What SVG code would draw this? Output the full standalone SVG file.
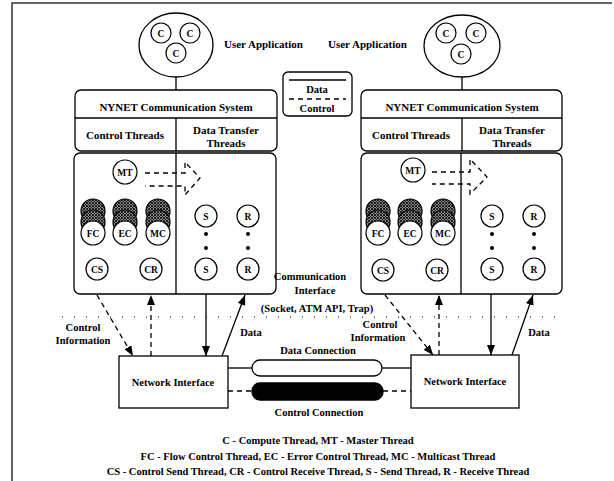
<svg xmlns="http://www.w3.org/2000/svg" width="614" height="481" viewBox="0 0 614 481">
<defs>
<style>
text{font-family:"Liberation Serif","Times New Roman",serif;font-weight:bold;fill:#000}
.t11{font-size:11px}
.t10{font-size:10.5px}
.lbl{font-size:9.5px;text-anchor:middle}
.mid{text-anchor:middle}
.box{fill:#fff;stroke:#000;stroke-width:1.3}
.ln{fill:none;stroke:#000;stroke-width:1.3}
.dash{fill:none;stroke:#000;stroke-width:1.3;stroke-dasharray:5 4}
.circ{fill:#fff;stroke:#000;stroke-width:1.2}
.hat{fill:url(#hatch);stroke:#000;stroke-width:1.2}
</style>
<pattern id="hatch" width="3" height="3" patternUnits="userSpaceOnUse">
<rect width="3" height="3" fill="#888"/>
<path d="M0,3 L3,0 M0,0 L3,3" stroke="#111" stroke-width="0.9"/>
</pattern>
<marker id="arr" markerUnits="userSpaceOnUse" markerWidth="10" markerHeight="8" refX="10" refY="4" orient="auto">
<path d="M0,0 L10,4 L0,8 z" fill="#000"/>
</marker>
<g id="stack">
<circle class="hat" cx="0" cy="-22" r="12"/>
<circle class="hat" cx="0" cy="-11" r="12"/>
<circle class="circ" cx="0" cy="0" r="12"/>
</g>
</defs>
<rect width="614" height="481" fill="#fff"/>
<g id="frame">
<path d="M12,481 V3 H612" fill="none" stroke="#333" stroke-width="1.5"/>
</g>

<!-- Left side -->
<g id="userAppL">
<ellipse class="box" cx="176" cy="45" rx="37" ry="32"/>
<circle class="circ" cx="161" cy="33" r="10"/><text class="lbl" x="161" y="36.5">C</text>
<circle class="circ" cx="190" cy="33" r="10"/><text class="lbl" x="190" y="36.5">C</text>
<circle class="circ" cx="176" cy="53" r="10"/><text class="lbl" x="176" y="56.5">C</text>
</g>
<text class="t11" x="224" y="48">User Application</text>
<g id="nynetL">
<rect class="box" x="75" y="90" width="202" height="61" rx="6"/>
<line class="ln" x1="75" y1="118" x2="277" y2="118"/>
<line class="ln" x1="176" y1="118" x2="176" y2="151"/>
<text class="t11 mid" x="176" y="111">NYNET Communication System</text>
<text class="t11 mid" x="125" y="139">Control Threads</text>
<text class="t11 mid" x="226" y="134">Data Transfer</text>
<text class="t11 mid" x="226" y="147">Threads</text>
</g>
<g id="bodyL">
<rect class="box" x="74" y="153" width="202" height="141" rx="6"/>
<line class="ln" x1="176" y1="153" x2="176" y2="294"/>
</g>
<g id="MTL"><circle class="circ" cx="125" cy="172" r="12"/><text class="lbl" x="125" y="175.5">MT</text></g>
<g id="mtArrowL"><path class="dash" d="M145,173 H185 V162 L200,178 L185,195 V186 H145"/></g>
<g id="FCL"><use href="#stack" x="93" y="233"/><text class="lbl" x="93" y="236.5">FC</text></g>
<g id="ECL"><use href="#stack" x="125" y="233"/><text class="lbl" x="125" y="236.5">EC</text></g>
<g id="MCL"><use href="#stack" x="158" y="233"/><text class="lbl" x="158" y="236.5">MC</text></g>
<g id="CSL"><circle class="circ" cx="97" cy="269" r="11"/><text class="lbl" x="97" y="272.5">CS</text></g>
<g id="CRL"><circle class="circ" cx="151" cy="269" r="11"/><text class="lbl" x="151" y="272.5">CR</text></g>
<g id="S1L"><circle class="circ" cx="206" cy="216" r="11"/><text class="lbl" x="206" y="219.5">S</text></g>
<g id="S2L"><circle class="circ" cx="206" cy="269" r="11"/><text class="lbl" x="206" y="272.5">S</text></g>
<g id="R1L"><circle class="circ" cx="248" cy="216" r="11"/><text class="lbl" x="248" y="219.5">R</text></g>
<g id="R2L"><circle class="circ" cx="248" cy="269" r="11"/><text class="lbl" x="248" y="272.5">R</text></g>
<g id="dotsL" fill="#000"><circle cx="206" cy="234" r="2"/><circle cx="206" cy="248" r="2"/><circle cx="248" cy="234" r="2"/><circle cx="248" cy="248" r="2"/></g>
<g id="niL">
<rect class="box" x="119" y="356" width="109" height="52"/>
<text class="t10 mid" x="173" y="386">Network Interface</text>
</g>

<!-- Right side -->
<g id="userAppR">
<ellipse class="box" cx="462" cy="46" rx="38" ry="31"/>
<circle class="circ" cx="446" cy="33" r="10"/><text class="lbl" x="446" y="36.5">C</text>
<circle class="circ" cx="476" cy="33" r="10"/><text class="lbl" x="476" y="36.5">C</text>
<circle class="circ" cx="461" cy="54" r="10"/><text class="lbl" x="461" y="57.5">C</text>
</g>
<text class="t11" x="328" y="48">User Application</text>
<g id="nynetR">
<rect class="box" x="361" y="90" width="201" height="61" rx="6"/>
<line class="ln" x1="361" y1="118" x2="562" y2="118"/>
<line class="ln" x1="462" y1="118" x2="462" y2="151"/>
<text class="t11 mid" x="462" y="111">NYNET Communication System</text>
<text class="t11 mid" x="411" y="139">Control Threads</text>
<text class="t11 mid" x="512" y="134">Data Transfer</text>
<text class="t11 mid" x="512" y="147">Threads</text>
</g>
<g id="bodyR">
<rect class="box" x="361" y="153" width="201" height="141" rx="6"/>
<line class="ln" x1="461" y1="153" x2="461" y2="294"/>
</g>
<g id="MTR"><circle class="circ" cx="413" cy="170" r="12"/><text class="lbl" x="413" y="173.5">MT</text></g>
<g id="mtArrowR"><path class="dash" d="M432,172 H470 V159 L487,177 L470,194 V184 H432"/></g>
<g id="FCR"><use href="#stack" x="378" y="233"/><text class="lbl" x="378" y="236.5">FC</text></g>
<g id="ECR"><use href="#stack" x="410" y="233"/><text class="lbl" x="410" y="236.5">EC</text></g>
<g id="MCR"><use href="#stack" x="443" y="233"/><text class="lbl" x="443" y="236.5">MC</text></g>
<g id="CSR"><circle class="circ" cx="383" cy="270" r="11"/><text class="lbl" x="383" y="273.5">CS</text></g>
<g id="CRR"><circle class="circ" cx="437" cy="270" r="11"/><text class="lbl" x="437" y="273.5">CR</text></g>
<g id="S1R"><circle class="circ" cx="492" cy="216" r="11"/><text class="lbl" x="492" y="219.5">S</text></g>
<g id="S2R"><circle class="circ" cx="492" cy="269" r="11"/><text class="lbl" x="492" y="272.5">S</text></g>
<g id="R1R"><circle class="circ" cx="534" cy="216" r="11"/><text class="lbl" x="534" y="219.5">R</text></g>
<g id="R2R"><circle class="circ" cx="534" cy="269" r="11"/><text class="lbl" x="534" y="272.5">R</text></g>
<g id="dotsR" fill="#000"><circle cx="492" cy="234" r="2"/><circle cx="492" cy="248" r="2"/><circle cx="534" cy="234" r="2"/><circle cx="534" cy="248" r="2"/></g>
<g id="niR">
<rect class="box" x="411" y="355" width="108" height="53"/>
<text class="t10 mid" x="465" y="385">Network Interface</text>
</g>

<!-- Legend -->
<g id="legend">
<rect class="box" x="283" y="72" width="69" height="44" rx="5"/>
<line class="ln" x1="289" y1="80" x2="346" y2="80"/>
<text class="t10 mid" x="317" y="93">Data</text>
<line class="dash" x1="289" y1="99" x2="346" y2="99"/>
<text class="t10 mid" x="317" y="112">Control</text>
</g>

<!-- Connection pipes -->
<g id="dataConn">
<rect x="252" y="360" width="130" height="16" rx="8" fill="#fff" stroke="#000" stroke-width="1.3"/>
<text class="t10 mid" x="318" y="354">Data Connection</text>
</g>
<g id="ctrlConn">
<rect x="252" y="383" width="131" height="17" rx="8" fill="#000" stroke="#000" stroke-width="1.3"/>
<text class="t10 mid" x="319" y="416">Control Connection</text>
</g>

<!-- Connectors -->
<g id="connectors">
<line class="ln" x1="176" y1="77" x2="176" y2="90"/>
<line class="ln" x1="462" y1="77" x2="462" y2="90"/>
<line class="dash" x1="97" y1="295" x2="133" y2="356" marker-end="url(#arr)"/>
<line class="dash" x1="151" y1="356" x2="151" y2="295" marker-end="url(#arr)"/>
<line class="ln" x1="206" y1="294" x2="206" y2="356" marker-end="url(#arr)"/>
<line class="ln" x1="222" y1="356" x2="245" y2="295" marker-end="url(#arr)"/>
<line class="dash" x1="385" y1="295" x2="433" y2="355" marker-end="url(#arr)"/>
<line class="dash" x1="439" y1="355" x2="439" y2="295" marker-end="url(#arr)"/>
<line class="ln" x1="491" y1="294" x2="491" y2="355" marker-end="url(#arr)"/>
<line class="ln" x1="512" y1="355" x2="533" y2="295" marker-end="url(#arr)"/>
<line class="ln" x1="228" y1="368" x2="252" y2="368"/>
<line class="ln" x1="382" y1="368" x2="411" y2="368"/>
<line class="dash" x1="228" y1="391" x2="252" y2="391"/>
<line class="dash" x1="383" y1="391" x2="411" y2="391"/>
<line x1="62" y1="317" x2="565" y2="317" stroke="#000" stroke-width="1.2" stroke-dasharray="1 11"/>
</g>

<!-- Labels -->
<text class="t10 mid" x="310" y="280">Communication</text>
<text class="t10 mid" x="315" y="294">Interface</text>
<text class="t10 mid" x="317" y="312">(Socket, ATM API, Trap)</text>
<text class="t10 mid" x="83" y="331">Control</text>
<text class="t10 mid" x="83" y="344">Information</text>
<text class="t10 mid" x="251" y="336">Data</text>
<text class="t10 mid" x="380" y="328">Control</text>
<text class="t10 mid" x="378" y="341">Information</text>
<text class="t10 mid" x="539" y="336">Data</text>

<g id="footer">
<text class="t10 mid" x="318" y="444">C - Compute Thread, MT - Master Thread</text>
<text class="t10 mid" x="318" y="460">FC - Flow Control Thread, EC - Error Control Thread, MC - Multicast Thread</text>
<text class="t10 mid" x="318" y="475">CS - Control Send Thread, CR - Control Receive Thread, S - Send Thread, R - Receive Thread</text>
</g>
</svg>
